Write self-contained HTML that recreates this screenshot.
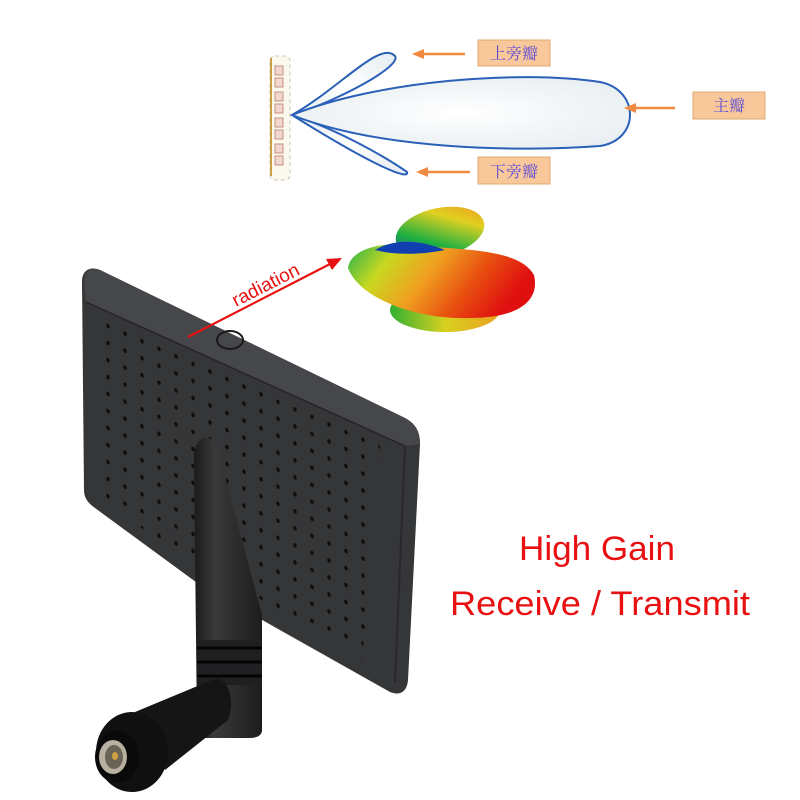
<!DOCTYPE html>
<html><head><meta charset="utf-8"><style>
html,body{margin:0;padding:0;background:#fff;}
svg{display:block}
</style></head><body>
<svg width="800" height="800" viewBox="0 0 800 800" xmlns="http://www.w3.org/2000/svg">
<defs>
<pattern id="dots" width="17" height="17" patternUnits="userSpaceOnUse" patternTransform="skewY(24)">
<ellipse cx="6" cy="6" rx="1.8" ry="2.3" fill="#0e0e0e"/></pattern>
<clipPath id="pc"><polygon points="95,318 380,445 362,660 95,500"/></clipPath>
<linearGradient id="body" x1="0" y1="0" x2="1" y2="0.3">
<stop offset="0" stop-color="#22b14c"/><stop offset="0.25" stop-color="#c8d820"/><stop offset="0.5" stop-color="#f0a020"/><stop offset="0.75" stop-color="#e85010"/><stop offset="1" stop-color="#e01010"/></linearGradient>
<linearGradient id="top" x1="0" y1="1" x2="1" y2="0">
<stop offset="0" stop-color="#1050c0"/><stop offset="0.35" stop-color="#20b040"/><stop offset="0.7" stop-color="#e0d020"/><stop offset="1" stop-color="#f09020"/></linearGradient>
<linearGradient id="bot" x1="0" y1="0" x2="1" y2="0">
<stop offset="0" stop-color="#30b030"/><stop offset="0.5" stop-color="#d8d020"/><stop offset="1" stop-color="#e8a020"/></linearGradient>
<radialGradient id="lobe" cx="0.5" cy="0.5" r="0.6"><stop offset="0" stop-color="#fff"/><stop offset="1" stop-color="#e8eef2"/></radialGradient>
<linearGradient id="whip" x1="0" y1="0" x2="1" y2="0">
<stop offset="0" stop-color="#1a1a1b"/><stop offset="0.3" stop-color="#3a3a3c"/><stop offset="1" stop-color="#1c1c1d"/></linearGradient>
</defs>

<!-- lobe diagram -->
<rect x="270" y="56" width="20" height="124" rx="5" fill="#fbf8ee" stroke="#c8c8b0" stroke-dasharray="4,3"/>
<line x1="271" y1="58" x2="271" y2="176" stroke="#c8a040" stroke-width="2"/>
<g fill="#f0d8d0" stroke="#c89080" stroke-width="1">
<rect x="275" y="66" width="8" height="9"/><rect x="275" y="78" width="8" height="9"/><rect x="275" y="92" width="8" height="9"/><rect x="275" y="104" width="8" height="9"/><rect x="275" y="118" width="8" height="9"/><rect x="275" y="130" width="8" height="9"/><rect x="275" y="144" width="8" height="9"/><rect x="275" y="156" width="8" height="9"/></g>
<g fill="url(#lobe)" stroke="#2a60b8" stroke-width="2">
<path d="M292,115 C340,88 380,40 395,56 C402,66 340,100 292,115Z"/>
<path d="M292,115 C340,130 390,160 407,172 C410,180 380,170 292,115Z"/>
<path d="M292,115 C380,80 520,70 600,82 C640,90 640,140 600,146 C520,152 380,150 292,115Z"/>
</g>
<g stroke="#f08a40" stroke-width="2.5" fill="#f08a40">
<line x1="465" y1="54" x2="420" y2="54"/><polygon points="412,54 424,49 424,59" stroke="none"/>
<line x1="675" y1="108" x2="632" y2="108"/><polygon points="624,108 636,103 636,113" stroke="none"/>
<line x1="470" y1="172" x2="424" y2="172"/><polygon points="416,172 428,167 428,177" stroke="none"/>
</g>
<g fill="#f8c89a" stroke="#e0a870">
<rect x="478" y="40" width="72" height="26"/><rect x="693" y="92" width="72" height="27"/><rect x="478" y="157" width="72" height="27"/></g>
<g font-family="'Noto Serif CJK SC','Noto Sans CJK SC',serif" font-size="16" fill="#5a4ad8" text-anchor="middle">
<text x="514" y="59">上旁瓣</text><text x="729" y="111">主瓣</text><text x="514" y="177">下旁瓣</text></g>

<!-- radiation blob -->
<ellipse cx="440" cy="232" rx="45" ry="24" fill="url(#top)" transform="rotate(-12 440 232)"/>
<ellipse cx="445" cy="310" rx="55" ry="22" fill="url(#bot)"/>
<path d="M348,268 C350,250 380,240 420,246 C470,250 520,250 534,275 C540,300 520,318 470,318 C420,320 360,300 348,268Z" fill="url(#body)"/>
<path d="M375,250 C395,238 420,240 445,250 C420,255 395,255 375,250Z" fill="#1040b0"/>

<!-- panel -->
<path d="M82,282 C82,270 90,266 100,270 L405,418 C416,424 420,432 420,444 L408,680 C407,692 400,696 390,692 L200,585 L95,508 C88,503 84,498 84,490 Z" fill="#353638"/>
<path d="M100,270 L405,418 C416,424 420,432 420,444 L405,446 L86,302 L84,282 C84,272 90,266 100,270Z" fill="#46474a"/>
<path d="M86,302 L405,446" fill="none" stroke="#252527" stroke-width="1.5"/>
<line x1="405" y1="446" x2="395" y2="682" stroke="#28282a" stroke-width="2"/>
<rect x="80" y="300" width="340" height="400" fill="url(#dots)" clip-path="url(#pc)"/>
<ellipse cx="230" cy="340" rx="13" ry="9" fill="none" stroke="#1a1a1a" stroke-width="2"/>
<!-- radiation arrow -->
<line x1="188" y1="337" x2="330" y2="264" stroke="#e81010" stroke-width="2.2"/>
<polygon points="342,258 326,259 332,270" fill="#e81010"/>
<text x="236" y="307" font-family="'Liberation Sans',sans-serif" font-size="19" fill="#e81010" transform="rotate(-27 236 307)">radiation</text>

<!-- whip -->
<path d="M194,458 C194,444 200,438 206,438 C214,438 218,446 220,458 L262,615 L262,730 C262,736 256,738 250,738 L205,738 C199,738 197,734 197,728 Z" fill="url(#whip)"/>
<rect x="197" y="640" width="65" height="45" fill="#202022"/>
<g stroke="#050505" stroke-width="3"><line x1="197" y1="648" x2="262" y2="648"/><line x1="197" y1="662" x2="262" y2="662"/><line x1="197" y1="676" x2="262" y2="676"/></g>
<!-- elbow connector -->
<path d="M135,712 L212,680 C228,674 236,700 228,720 L165,770 Z" fill="#151516"/>
<ellipse cx="132" cy="752" rx="36" ry="40" fill="#101011"/>
<ellipse cx="117" cy="757" rx="22" ry="26" fill="#0a0a0a"/>
<ellipse cx="113" cy="757" rx="14" ry="17" fill="#b8b0a0"/>
<ellipse cx="114" cy="757" rx="9" ry="12" fill="#6a6458"/>
<ellipse cx="115" cy="756" rx="3" ry="4" fill="#d0a040"/>

<!-- text -->
<g font-family="'Liberation Sans',sans-serif" fill="#e81010" text-anchor="middle">
<text x="597" y="560" font-size="34" textLength="156" lengthAdjust="spacingAndGlyphs">High Gain</text>
<text x="600" y="615" font-size="34" textLength="300" lengthAdjust="spacingAndGlyphs">Receive / Transmit</text></g>
</svg>
</body></html>
